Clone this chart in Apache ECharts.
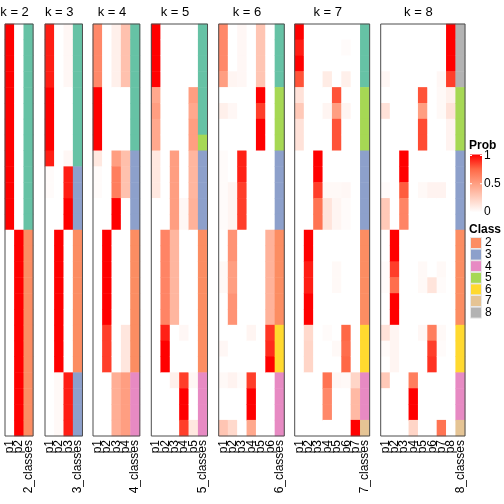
<!DOCTYPE html>
<html><head><meta charset="utf-8">
<script src="https://cdn.jsdelivr.net/npm/echarts@6/dist/echarts.min.js"></script>
<style>html,body{margin:0;padding:0;background:#fff}#c{width:504px;height:504px}</style>
</head><body><div id="c"></div>
<script>
// ---- data ----
const ks = [2, 3, 4, 5, 6, 7, 8];

const prob_k2 = [
  [1,1,1,1,1,1,1,1,1,1,1,1,1, 0,0,0,0,0,0,0,0,0,0,0,0,0],
  [0,0,0,0,0,0,0,0,0,0,0,0,0, 1,1,1,1,1,1,1,1,1,1,1,1,1]
];
const class_k2 = [1,1,1,1,1,1,1,1,1,1,1,1,1, 2,2,2,2,2,2,2,2,2,2,2,2,2];

const prob_k3 = [
  [0.93,0.93,0.93,0.93, 1,1,1,1, 0.93, 0.02,0.02, 0,0, 0,0,0,0,0,0,0,0,0, 0,0,0,0],
  [0,0,0,0, 0,0,0,0, 0, 0,0, 0,0, 1,1,1,1,1,1,1,1,1, 0.03,0.03,0.03,0.03],
  [0.04,0.04,0.04,0.04, 0,0,0,0, 0.04, 0.93,0.93, 1,1, 0,0,0,0,0,0,0,0,0, 0.93,0.93,0.93,0.93]
];
const class_k3 = [1,1,1,1, 1,1,1,1, 1, 3,3, 3,3, 2,2,2,2,2,2,2,2,2, 3,3,3,3];

const prob_k4 = [
  [0.6,0.6,0.6,0.6, 1,1,1,1, 0.12, 0.02,0.02, 0,0, 0,0,0,0,0,0, 0,0,0, 0,0,0,0],
  [0,0,0,0, 0,0,0,0, 0, 0,0, 0,0, 1,1,1,1,1,1, 0.85,0.85,0.85, 0,0,0,0],
  [0.08,0.08,0.08,0.08, 0,0,0,0, 0.5, 0.65,0.65, 1,1, 0,0,0,0,0,0, 0,0,0, 0.42,0.42,0.42,0.42],
  [0.32,0.32,0.32,0.32, 0,0,0,0, 0.33, 0.32,0.32, 0,0, 0,0,0,0,0,0, 0.13,0.13,0.13, 0.5,0.5,0.5,0.5]
];
const class_k4 = [1,1,1,1, 1,1,1,1, 3, 3,3, 3,3, 2,2,2,2,2,2, 2,2,2, 4,4,4,4];

const prob_k5 = [
  [1,1,1,1, 0.45, 0.5, 0.45, 0.45, 0.12,0.12,0.12, 0,0, 0,0,0,0,0,0, 0, 0,0, 0, 0,0, 0],
  [0,0,0,0, 0,0,0,0, 0,0,0, 0,0, 0.62,0.62,0.62,0.62,0.62,0.62, 0.92, 1,1, 0, 0,0, 0],
  [0,0,0,0, 0,0,0,0, 0.5,0.5,0.5, 0.5,0.5, 0.38,0.38,0.38,0.38,0.38,0.38, 0, 0,0, 0.08, 0,0, 0],
  [0,0,0,0, 0,0,0,0, 0,0,0, 0.04,0.04, 0,0,0,0,0,0, 0.04, 0,0, 0.85, 1,1, 0.85],
  [0,0,0,0, 0.5,0.45,0.5,0.5, 0.38,0.38,0.38, 0.4,0.4, 0,0,0,0,0,0, 0, 0,0, 0.04, 0,0, 0.12]
];
const class_k5 = [1,1,1,1, 1,1,1,5, 3,3,3, 3,3, 2,2,2,2,2,2, 2, 2,2, 4, 4,4, 4];

const prob_k6 = [
  [0.6,0.6,0.6, 0.5, 0, 0.08, 0,0, 0.02,0.02, 0.02,0.02,0.02, 0,0, 0.03,0.03, 0,0, 0, 0.04, 0, 0.03, 0,0, 0.3],
  [0,0,0, 0.05, 0, 0.04, 0,0, 0,0, 0.05,0.05,0.05, 0.55,0.55, 0.5,0.5, 0.55,0.55, 0, 0, 0, 0.06, 0,0, 0.2],
  [0.04,0.04,0.04, 0.04, 0, 0, 0,0, 0.92,0.92, 0.85,0.85,0.85, 0,0, 0,0, 0,0, 0, 0, 0, 0.02, 0,0, 0],
  [0,0,0, 0, 0, 0, 0,0, 0,0, 0,0,0, 0,0, 0,0, 0,0, 0.05, 0, 0, 0.85, 1,1, 0.45],
  [0.3,0.3,0.3, 0.3, 1, 0.85, 1,1, 0,0, 0,0,0, 0,0, 0,0, 0,0, 0, 0, 0, 0, 0,0, 0],
  [0,0,0, 0, 0, 0, 0,0, 0,0, 0,0,0, 0.4,0.4, 0.4,0.4, 0.4,0.4, 0.87, 0.9, 1, 0, 0,0, 0]
];
const class_k6 = [1,1,1, 1, 5, 5, 5,5, 3,3, 3,3,3, 2,2, 2,2, 2,2, 6, 6, 6, 4, 4,4, 4];

const prob_k7 = [
  [1, 0.93, 1, 0.8, 0.15, 0.28, 0.15,0.15, 0,0, 0, 0,0, 0,0, 0,0, 0,0, 0, 0, 0, 0, 0,0, 0],
  [0, 0, 0, 0, 0, 0, 0,0, 0,0, 0, 0,0, 1,1, 0.93,0.93, 1,1, 0.2, 0.22, 0.22, 0, 0,0, 0],
  [0, 0, 0, 0, 0, 0, 0,0, 1,1, 0.85, 0.7,0.7, 0,0, 0,0, 0,0, 0, 0, 0, 0, 0,0, 0],
  [0, 0, 0, 0.1, 0, 0.05, 0,0, 0,0, 0.03, 0.14,0.14, 0,0, 0,0, 0,0, 0.02, 0, 0, 0.7, 0.6,0.6, 0],
  [0, 0, 0, 0, 0.8, 0.5, 0.8,0.8, 0,0, 0.03, 0.05,0.05, 0,0, 0.03,0.03, 0,0, 0, 0.03, 0, 0.04, 0,0, 0],
  [0, 0.02, 0, 0.08, 0, 0.05, 0,0, 0,0, 0.04, 0.02,0.02, 0,0, 0,0, 0,0, 0.75, 0.72, 0.75, 0.03, 0,0, 0],
  [0, 0, 0, 0, 0, 0, 0,0, 0,0, 0, 0,0, 0,0, 0,0, 0,0, 0, 0, 0, 0.22, 0.36,0.36, 1]
];
const class_k7 = [1,1,1,1, 5,5,5,5, 3,3,3,3,3, 2,2,2,2,2,2, 6,6,6, 4,4,4, 7];

const prob_k8 = [
  [0,0,0, 0.04, 0, 0.15, 0,0, 0,0, 0.02, 0.28,0.28, 0,0, 0.02, 0.02, 0,0, 0.15, 0.02, 0, 0.28, 0,0, 0],
  [0,0,0, 0, 0, 0, 0,0, 0,0, 0, 0,0, 1,1, 0.85, 0.72, 1,1, 0.05, 0.05, 0.05, 0, 0,0, 0],
  [0,0,0, 0, 0, 0, 0,0, 1,1, 0.78, 0.62,0.62, 0,0, 0, 0, 0,0, 0, 0, 0, 0, 0,0, 0],
  [0,0,0, 0, 0, 0, 0,0, 0,0, 0, 0,0, 0,0, 0, 0, 0,0, 0, 0, 0, 0.65, 1,1, 0.22],
  [0,0,0, 0, 0.8, 0.5, 0.82,0.82, 0,0, 0.03, 0,0, 0,0, 0.03, 0.03, 0,0, 0.04, 0, 0, 0, 0,0, 0],
  [0,0,0, 0, 0, 0, 0,0, 0,0, 0.06, 0,0, 0,0, 0, 0.14, 0,0, 0.65, 0.85, 0.88, 0, 0,0, 0],
  [0,0,0, 0.04, 0.03, 0.03, 0,0, 0,0, 0.06, 0,0, 0,0, 0.03, 0.02, 0,0, 0.03, 0.02, 0, 0, 0,0, 0.7],
  [1,1,1, 0.85, 0.08, 0.15, 0.06,0.06, 0,0, 0, 0,0, 0,0, 0, 0, 0,0, 0, 0, 0, 0, 0,0, 0]
];
const class_k8 = [8,8,8,8, 5,5,5,5, 3,3,3,3,3, 2,2,2,2,2,2, 6,6,6, 4,4,4, 7];

const classIds = [1, 2, 3, 4, 5, 6, 7, 8];
const classColors = ['#66C2A5', '#FC8D62', '#8DA0CB', '#E78AC3', '#A6D854', '#FFD92F', '#E5C494', '#B3B3B3'];
const legendClasses = ['2', '3', '4', '5', '6', '7', '8'];
const probTicks = [1, 0.5, 0];
const probTickLabels = ['1', '0.5', '0'];

// ---- layout ----
const FONT = '"Liberation Sans", Arial, Helvetica, sans-serif';
const probs = { 2: prob_k2, 3: prob_k3, 4: prob_k4, 5: prob_k5, 6: prob_k6, 7: prob_k7, 8: prob_k8 };
const classes = { 2: class_k2, 3: class_k3, 4: class_k4, 5: class_k5, 6: class_k6, 7: class_k7, 8: class_k8 };
const panelLeft = [5, 45, 93, 151.3, 218.7, 294.7, 380.7];
const colW = 9.37;
const gridTop = 24, gridH = 412;
const nRows = class_k2.length;
const rowIds = Array.from({ length: nRows }, (_, i) => String(i));

const grids = [], xAxes = [], yAxes = [], series = [], probIdx = [], classIdx = [], graphics = [];
ks.forEach((k, pi) => {
  const P = probs[k], C = classes[k];
  const w = colW * (k + 1);
  grids.push({ left: panelLeft[pi], top: gridTop, width: w, height: gridH });
  xAxes.push({
    type: 'category', gridIndex: pi,
    data: P.map((_, j) => 'p' + (j + 1)).concat([k + '_classes']),
    axisLine: { show: false }, axisTick: { show: false }, splitLine: { show: false },
    axisLabel: { rotate: 90, interval: 0, fontSize: 12, color: '#000', margin: 4, fontFamily: FONT }
  });
  yAxes.push({ type: 'category', gridIndex: pi, data: rowIds, inverse: true, show: false });
  const pd = [];
  P.forEach((col, j) => col.forEach((v, i) => pd.push([j, i, v])));
  probIdx.push(series.length);
  series.push({ type: 'heatmap', xAxisIndex: pi, yAxisIndex: pi, data: pd, silent: true, emphasis: { disabled: true } });
  classIdx.push(series.length);
  series.push({ type: 'heatmap', xAxisIndex: pi, yAxisIndex: pi, data: C.map((c, i) => [k, i, c]), silent: true, emphasis: { disabled: true } });
  // panel frame and title
  graphics.push({ type: 'rect', z: 100, silent: true,
    shape: { x: panelLeft[pi], y: gridTop, width: w, height: gridH },
    style: { fill: 'none', stroke: '#4d4d4d', lineWidth: 1 } });
  graphics.push({ type: 'text', z: 100, silent: true, x: panelLeft[pi] + w / 2 - 4.5, y: 12,
    style: { text: 'k = ' + k, fontSize: 13, fontFamily: FONT, fill: '#000', align: 'center', verticalAlign: 'middle' } });
});

// legend: Prob
const lgX = 470;
const barTop = 154.5, barBot = 212.5;
graphics.push({ type: 'text', x: lgX - 1, y: 146, style: { text: 'Prob', fontSize: 12, fontWeight: 'bold', fontFamily: FONT, fill: '#000', verticalAlign: 'middle' } });
graphics.push({ type: 'rect', shape: { x: lgX, y: barTop, width: 12, height: barBot - barTop },
  style: { fill: { type: 'linear', x: 0, y: 0, x2: 0, y2: 1, colorStops: [
    { offset: 0, color: '#FF0000' }, { offset: 0.25, color: '#FF6846' }, { offset: 0.5, color: '#FF9E81' },
    { offset: 0.75, color: '#FFCFBF' }, { offset: 1, color: '#FFFFFF' } ] } } });
probTicks.forEach((t, i) => {
  const y = barBot - 0.5 - t * (barBot - barTop - 1.5);
  graphics.push({ type: 'line', shape: { x1: lgX, y1: y, x2: lgX + 2, y2: y }, style: { stroke: '#fff', lineWidth: 1 } });
  graphics.push({ type: 'line', shape: { x1: lgX + 10, y1: y, x2: lgX + 12, y2: y }, style: { stroke: '#fff', lineWidth: 1 } });
  graphics.push({ type: 'text', x: lgX + 14, y: y, style: { text: probTickLabels[i], fontSize: 12, fontFamily: FONT, fill: '#000', verticalAlign: 'middle' } });
});
// legend: Class
graphics.push({ type: 'text', x: lgX - 1, y: 229.5, style: { text: 'Class', fontSize: 12, fontWeight: 'bold', fontFamily: FONT, fill: '#000', verticalAlign: 'middle' } });
legendClasses.forEach((c, i) => {
  const cy = 243 + i * 11.6;
  graphics.push({ type: 'rect', shape: { x: lgX + 0.5, y: cy - 5.5, width: 11, height: 11 },
    style: { fill: classColors[classIds.indexOf(Number(c))], stroke: '#e8e8e8', lineWidth: 1 } });
  graphics.push({ type: 'text', x: lgX + 15, y: cy, style: { text: c, fontSize: 12, fontFamily: FONT, fill: '#000', verticalAlign: 'middle' } });
});

const chart = echarts.init(document.getElementById('c'), null, { renderer: 'canvas' });
chart.setOption({
  animation: false,
  backgroundColor: '#fff',
  grid: grids, xAxis: xAxes, yAxis: yAxes,
  visualMap: [
    { type: 'continuous', show: false, min: 0, max: 1, seriesIndex: probIdx,
      inRange: { color: ['#FFFFFF', '#FFCFBF', '#FF9E81', '#FF6846', '#FF0000'] } },
    { type: 'piecewise', show: false, seriesIndex: classIdx,
      pieces: classIds.map((c, i) => ({ value: c, color: classColors[i] })) }
  ],
  series: series,
  graphic: graphics
});
</script></body></html>
